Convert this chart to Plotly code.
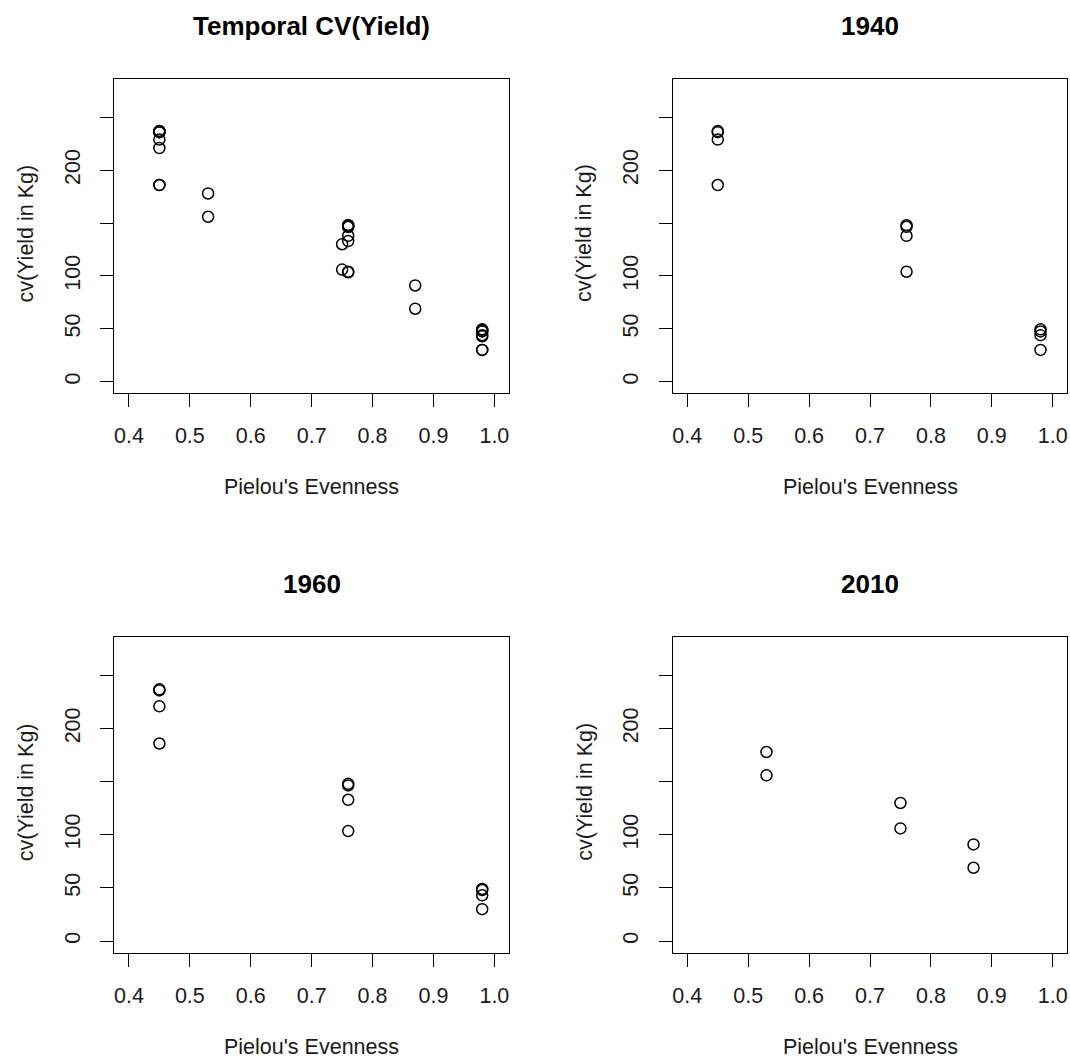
import plotly.graph_objects as go

# ---- data ----
x_1940 = [0.45, 0.45, 0.45, 0.45, 0.76, 0.76, 0.76, 0.76, 0.98, 0.98, 0.98, 0.98]
y_1940 = [237, 236, 229, 186, 148, 146.5, 138, 104, 49.5, 47.5, 44, 30]
x_1960 = [0.45, 0.45, 0.45, 0.45, 0.76, 0.76, 0.76, 0.76, 0.98, 0.98, 0.98, 0.98]
y_1960 = [237, 236, 221, 186, 148, 146.5, 133, 103.5, 49, 48, 43, 30]
x_2010 = [0.53, 0.53, 0.75, 0.75, 0.87, 0.87]
y_2010 = [178, 156, 130, 106, 91, 69]

panel_titles = ["Temporal CV(Yield)", "1940", "1960", "2010"]
x_label = "Pielou's Evenness"
y_label = "cv(Yield in Kg)"
x_ticks = [0.4, 0.5, 0.6, 0.7, 0.8, 0.9, 1.0]
x_ticktext = ["0.4", "0.5", "0.6", "0.7", "0.8", "0.9", "1.0"]
y_ticks = [0, 50, 100, 150, 200, 250]
y_ticktext = ["0", "50", "100", "", "200", ""]

x_all = x_1940 + x_1960 + x_2010
y_all = y_1940 + y_1960 + y_2010
panels = [(x_all, y_all), (x_1940, y_1940), (x_1960, y_1960), (x_2010, y_2010)]

W, H = 1070, 1059
FONT = "Liberation Sans, Arial, Helvetica, sans-serif"
FS = 21.5
TXT = "#1a1a1a"

# panel boxes in pixels (left, right, top, bottom)
boxes = [
    (114.3, 509.0, 79.3, 393.3),
    (672.7, 1067.3, 79.3, 393.3),
    (114.3, 509.0, 637.3, 952.7),
    (672.7, 1067.3, 637.3, 952.7),
]

fig = go.Figure()
layout = dict(
    width=W, height=H, margin=dict(l=0, r=0, t=0, b=0),
    paper_bgcolor="white", plot_bgcolor="white", showlegend=False,
    font=dict(family=FONT, color=TXT, size=FS),
)
annotations = []
for i, ((xs, ys), (l, r, t, b), title) in enumerate(zip(panels, boxes, panel_titles)):
    n = "" if i == 0 else str(i + 1)
    fig.add_trace(go.Scatter(
        x=xs, y=ys, mode="markers", xaxis="x" + n, yaxis="y" + n,
        marker=dict(symbol="circle-open", size=11, color="black", line=dict(width=1.5, color="black")),
        hoverinfo="skip",
    ))
    common = dict(showgrid=False, zeroline=False, showline=True, mirror=True,
                  linecolor="black", linewidth=1.3, ticks="outside", ticklen=13,
                  tickwidth=1.3, tickcolor="black", tickfont=dict(size=FS, family=FONT, color=TXT))
    layout["xaxis" + n] = dict(
        domain=[l / W, r / W], anchor="y" + n, range=[0.376, 1.024],
        tickvals=x_ticks, ticktext=x_ticktext, ticklabelstandoff=10, **common)
    layout["yaxis" + n] = dict(
        domain=[1 - b / H, 1 - t / H], anchor="x" + n, range=[-11, 286],
        tickvals=y_ticks, ticktext=y_ticktext, tickangle=-90, ticklabelstandoff=12, **common)
    cx = (l + r) / 2
    annotations.append(dict(text="<b>%s</b>" % title, x=cx / W, y=1 - (t - 53) / H,
                            xref="paper", yref="paper", showarrow=False,
                            xanchor="center", yanchor="middle",
                            font=dict(size=26, family=FONT, color="black")))
    annotations.append(dict(text=x_label, x=cx / W, y=1 - (b + 94) / H,
                            xref="paper", yref="paper", showarrow=False,
                            xanchor="center", yanchor="middle",
                            font=dict(size=FS, family=FONT, color=TXT)))
    annotations.append(dict(text=y_label, x=(l - 88) / W, y=1 - ((t + b) / 2 - 3) / H,
                            xref="paper", yref="paper", showarrow=False, textangle=-90,
                            xanchor="center", yanchor="middle",
                            font=dict(size=FS, family=FONT, color=TXT)))
layout["annotations"] = annotations
fig.update_layout(**layout)
fig.write_html(
    "out.html",
    config={"displayModeBar": False},
    post_script="document.body.style.margin='0px';document.body.style.overflow='hidden';"
                "document.documentElement.style.overflow='hidden';",
)
